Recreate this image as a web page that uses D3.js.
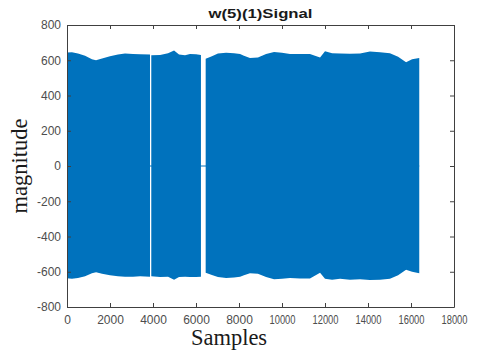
<!DOCTYPE html>
<html>
<head>
<meta charset="utf-8">
<script src="https://cdn.jsdelivr.net/npm/d3@7"></script>
<style>
  body { margin: 0; background: #fff; }
  svg { display: block; }
</style>
</head>
<body>
<svg id="chart" width="478" height="351"></svg>
<script>
const seg1Samples = [0, 230, 510, 840, 1160, 1350, 1630, 2000, 2370, 2700, 3070, 3400, 3860];
const seg1Upper = [644, 645, 638, 625, 605, 600, 610, 622, 632, 638, 635, 634, 632];
const seg1Lower = [-637, -640, -635, -625, -608, -603, -612, -620, -625, -628, -628, -626, -628];

const seg2Samples = [3920, 4330, 4700, 4980, 5210, 5490, 5720, 6000, 6230];
const seg2Upper = [628, 630, 640, 656, 632, 628, 636, 634, 630];
const seg2Lower = [-625, -630, -628, -645, -630, -628, -630, -630, -628];

const seg3Samples = [6450, 6740, 7020, 7400, 7770, 8050, 8230, 8510, 8880, 9260, 9630, 10000, 10370,
  10840, 11300, 11770, 12000, 12330, 12700, 13160, 13630, 14090, 14560, 15020, 15400, 15770, 16050, 16384];
const seg3Upper = [609, 622, 638, 642, 640, 636, 625, 613, 615, 635, 647, 642, 636,
  636, 635, 615, 651, 640, 638, 637, 638, 650, 645, 640, 620, 588, 605, 613];
const seg3Lower = [-605, -618, -630, -635, -632, -628, -620, -609, -612, -630, -643, -640, -636,
  -638, -638, -605, -640, -645, -640, -645, -642, -647, -645, -640, -620, -588, -600, -609];

const signalEnd = 16384;
const xTicks = [0, 2000, 4000, 6000, 8000, 10000, 12000, 14000, 16000, 18000];
const yTicks = [-800, -600, -400, -200, 0, 200, 400, 600, 800];

const svg = d3.select('#chart');
const plot = { left: 67, right: 454, top: 25, bottom: 307 };
const blue = '#0072BD';
const axisColor = '#404040';

const x = d3.scaleLinear().domain([0, 18000]).range([plot.left, plot.right]);
const y = d3.scaleLinear().domain([-800, 800]).range([plot.bottom, plot.top]);

const segments = [
  [seg1Samples, seg1Upper, seg1Lower],
  [seg2Samples, seg2Upper, seg2Lower],
  [seg3Samples, seg3Upper, seg3Lower]
].map(([s, u, l]) => s.map((v, i) => ({ s: v, u: u[i], l: l[i] })));

const area = d3.area()
  .x(d => x(d.s))
  .y0(d => y(d.l))
  .y1(d => y(d.u));

// thin line at zero, visible through the gaps
svg.append('line')
  .attr('x1', x(0)).attr('x2', x(signalEnd))
  .attr('y1', y(0)).attr('y2', y(0))
  .attr('stroke', blue)
  .attr('stroke-width', 1);

svg.append('g')
  .selectAll('path')
  .data(segments)
  .enter()
  .append('path')
  .attr('d', area)
  .attr('fill', blue);

// axes, MATLAB style box with inward ticks
const tickFont = 'Liberation Sans, Arial, sans-serif';
const plain = d => String(d); // plain hyphen, no thousands separator

const xAxis = svg.append('g')
  .attr('transform', `translate(0,${plot.bottom})`)
  .call(d3.axisBottom(x).tickValues(xTicks).tickFormat(plain).tickSizeInner(-4).tickSizeOuter(0).tickPadding(8));
const xTop = svg.append('g')
  .attr('transform', `translate(0,${plot.top})`)
  .call(d3.axisTop(x).tickValues(xTicks).tickSizeInner(-4).tickSizeOuter(0).tickFormat(''));
const yAxis = svg.append('g')
  .attr('transform', `translate(${plot.left},0)`)
  .call(d3.axisLeft(y).tickValues(yTicks).tickFormat(plain).tickSizeInner(-4).tickSizeOuter(0).tickPadding(6));
const yRight = svg.append('g')
  .attr('transform', `translate(${plot.right},0)`)
  .call(d3.axisRight(y).tickValues(yTicks).tickSizeInner(-4).tickSizeOuter(0).tickFormat(''));

[xAxis, xTop, yAxis, yRight].forEach(g => {
  g.selectAll('path, line').attr('stroke', axisColor);
  g.selectAll('text')
    .attr('fill', '#4d4d4d')
    .style('font-family', tickFont)
    .style('font-size', '12px');
});

// five-digit labels are squeezed in the reference
xAxis.selectAll('text')
  .filter(d => d >= 10000)
  .attr('textLength', 26)
  .attr('lengthAdjust', 'spacingAndGlyphs');

// title
svg.append('text')
  .attr('x', (plot.left + plot.right) / 2)
  .attr('y', 18)
  .attr('text-anchor', 'middle')
  .attr('textLength', 104)
  .attr('lengthAdjust', 'spacingAndGlyphs')
  .style('font-family', tickFont)
  .style('font-weight', 'bold')
  .style('font-size', '13px')
  .attr('fill', '#1a1a1a')
  .text('w(5)(1)Signal');

// axis labels
svg.append('text')
  .attr('x', 229)
  .attr('y', 345)
  .attr('text-anchor', 'middle')
  .style('font-family', 'Liberation Serif, Times New Roman, serif')
  .style('font-size', '22.5px')
  .attr('fill', '#1a1a1a')
  .text('Samples');

svg.append('text')
  .attr('transform', 'translate(27,166) rotate(-90)')
  .attr('text-anchor', 'middle')
  .style('font-family', 'Liberation Serif, Times New Roman, serif')
  .style('font-size', '22.5px')
  .attr('fill', '#1a1a1a')
  .text('magnitude');
</script>
</body>
</html>
